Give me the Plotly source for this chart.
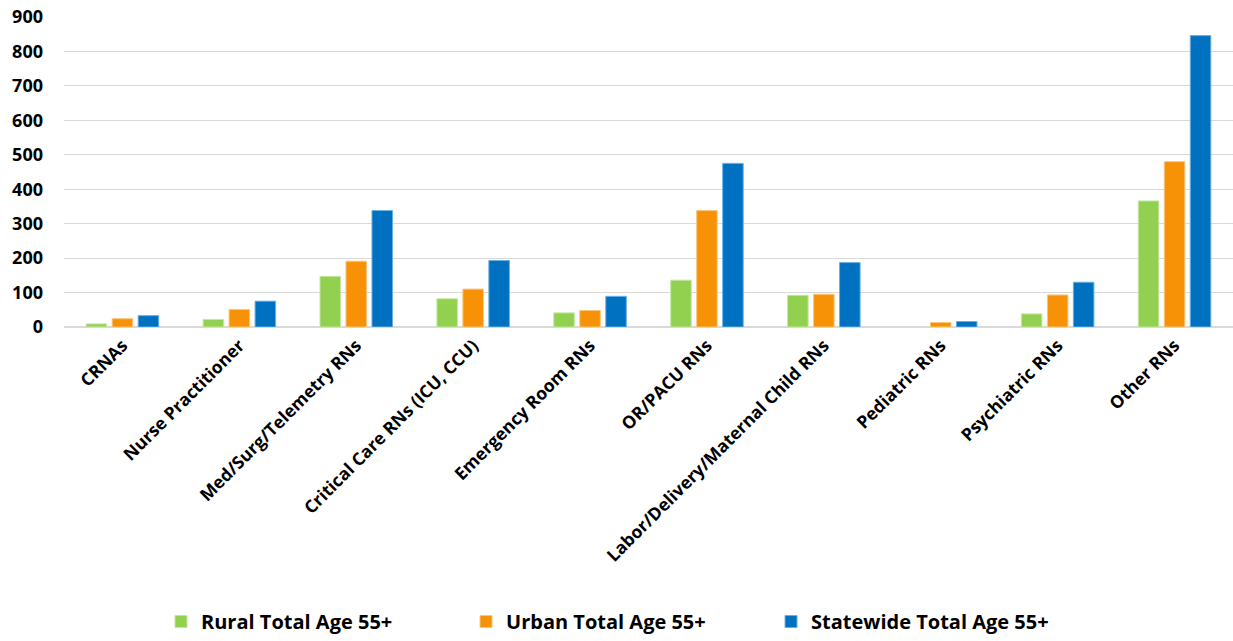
import plotly.graph_objects as go

categories = [
    "CRNAs",
    "Nurse Practitioner",
    "Med/Surg/Telemetry RNs",
    "Critical Care RNs (ICU, CCU)",
    "Emergency Room RNs",
    "OR/PACU RNs",
    "Labor/Delivery/Maternal Child RNs",
    "Pediatric RNs",
    "Psychiatric RNs",
    "Other RNs",
]

rural = [9, 22, 147, 82, 41, 136, 92, 0, 38, 366]
urban = [24, 51, 191, 110, 48, 338, 95, 13, 93, 480]
statewide = [33, 75, 338, 193, 89, 475, 187, 16, 130, 846]

series = [
    ("Rural Total Age 55+", rural, "#92D050", "#C6E7A2"),
    ("Urban Total Age 55+", urban, "#F79206", "#FBC57A"),
    ("Statewide Total Age 55+", statewide, "#0070C0", "#6AAFE0"),
]

FONT = "Open Sans"

fig = go.Figure()
for name, vals, color, edge in series:
    # thin lighter edge on each bar; none on empty (zero) bars
    edge_widths = [0 if v == 0 else 1 for v in vals]
    fig.add_trace(
        go.Bar(
            x=categories,
            y=vals,
            name=name,
            marker=dict(color=color, line=dict(color=edge, width=edge_widths)),
        )
    )

fig.update_layout(
    width=1233,
    height=641,
    margin=dict(l=64, r=0, t=17, b=313),
    paper_bgcolor="white",
    plot_bgcolor="white",
    barmode="group",
    bargap=0.333,
    bargroupgap=0.21,
    font=dict(family=FONT, color="#000000"),
    showlegend=True,
    legend=dict(
        orientation="h",
        x=0.083,
        xanchor="left",
        y=-0.952,
        yanchor="middle",
        entrywidth=260,
        entrywidthmode="pixels",
        itemwidth=30,
        tracegroupgap=0,
        font=dict(family=FONT, size=20, weight="bold", color="#000000"),
        bgcolor="rgba(0,0,0,0)",
    ),
)

fig.update_yaxes(
    range=[0, 900],
    dtick=100,
    showgrid=True,
    gridcolor="#D9D9D9",
    gridwidth=1,
    zeroline=True,
    zerolinecolor="#D9D9D9",
    zerolinewidth=1.5,
    showline=False,
    ticks="",
    ticklabelstandoff=20,
    tickfont=dict(family=FONT, size=18, weight="bold", color="#000000"),
    automargin=False,
)

fig.update_xaxes(
    tickangle=-45,
    ticks="",
    showline=False,
    showgrid=False,
    ticklabelstandoff=4,
    tickfont=dict(family=FONT, size=17.5, weight="bold", color="#000000"),
    automargin=False,
)

fig.write_html("out.html")
